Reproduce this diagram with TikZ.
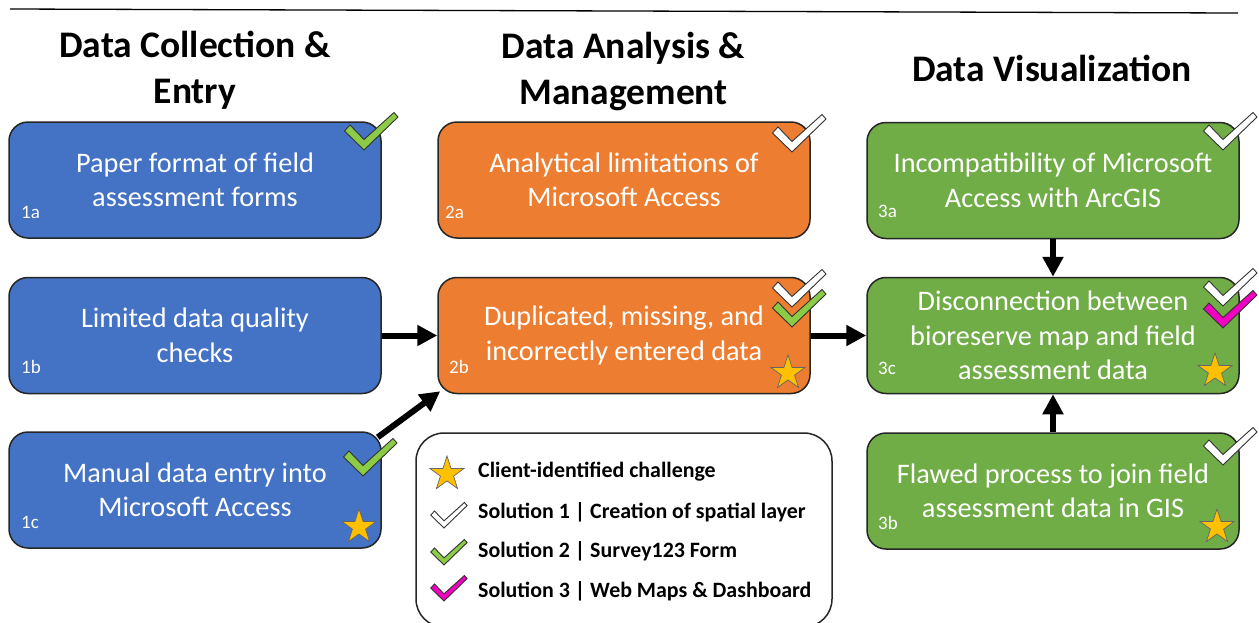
\documentclass[tikz,border=0pt]{standalone}
\usepackage{fontspec}
\setmainfont{Carlito}
\usetikzlibrary{arrows.meta,shapes.geometric}
\definecolor{cblue}{HTML}{4472C4}
\definecolor{corange}{HTML}{ED7D31}
\definecolor{cgreen}{HTML}{70AD47}
\definecolor{cgold}{HTML}{FFC000}
\definecolor{cchk}{HTML}{8CCB45}
\definecolor{cpink}{HTML}{F000C0}
\tikzset{
  box/.style={draw=black!85,line width=1.5pt,rounded corners=19pt,minimum width=372pt,minimum height=116pt,inner sep=0pt,text=white,align=center,font=\fontsize{28.3}{34.5}\selectfont},
  tag/.style={text=white,anchor=west,inner sep=0pt,font=\fontsize{19}{20}\selectfont},
  head/.style={align=center,inner sep=0pt,font=\fontsize{37.5}{46}\selectfont\bfseries},
  legtext/.style={anchor=west,inner sep=0pt,font=\fontsize{21.9}{24}\selectfont\bfseries},
  conn/.style={line width=6pt,-{Triangle[length=20pt,width=20pt]}},
  starmark/.style={star,star points=5,star point ratio=2.6,minimum size=36pt,inner sep=0pt,fill=cgold,draw=black!60,line width=.7pt},
  chkline/.style={draw=black!80,line width=.9pt,line join=miter}
}
\newcommand{\chkmark}[4]{%
  \fill[#3,chkline,shift={(#1,#2)},scale=#4] (0,0) -- (-19.5,-19) -- (-14,-25) -- (0,-10.5) -- (30,-37.5) -- (34,-33) -- cycle;}
\begin{document}
\begin{tikzpicture}[x=1pt,y=-1pt]
\useasboundingbox (0,0) rectangle (1259,622);
\fill[white] (0,0) rectangle (1259,622);
\coordinate (ruleL) at (10,9);
\coordinate (ruleR) at (1238,13);
\draw[black,line width=1.3pt] (ruleL) -- (ruleR);

\node[head] (h1) at (195,70.5) {Data Collection \&\\Entry};
\node[head] (h2) at (623.5,71.5) {Data Analysis \&\\Management};
\node[head] (h3) at (1052,68) {Data Visualization};

\node[box,fill=cblue] (a1) at (195,180) {Paper format of field\\assessment forms};
\node[box,fill=cblue] (b1) at (195,335.5) {Limited data quality\\checks};
\node[box,fill=cblue] (c1) at (195,490) {Manual data entry into\\Microsoft Access};
\node[box,fill=corange] (a2) at (624,180) {Analytical limitations of\\Microsoft Access};
\node[box,fill=corange] (b2) at (624,335.5) {Duplicated, missing, and\\incorrectly entered data};
\node[box,fill=cgreen] (a3) at (1053,180.5) {Incompatibility of Microsoft\\Access with ArcGIS};
\node[box,fill=cgreen] (c3) at (1053,335.5) {Disconnection between\\bioreserve map and field\\assessment data};
\node[box,fill=cgreen] (b3) at (1053,491) {Flawed process to join field\\assessment data in GIS};

\node[tag] (ta1) at (21,212) {1a};
\node[tag] (tb1) at (21,367) {1b};
\node[tag] (tc1) at (21,522) {1c};
\node[tag] (ta2) at (445,212) {2a};
\node[tag] (tb2) at (449,367) {2b};
\node[tag] (ta3) at (878,211) {3a};
\node[tag] (tc3) at (878,368) {3c};
\node[tag] (tb3) at (878,523) {3b};

\draw[conn] (b1.east) -- (b2.west);
\draw[conn] ([shift={(-4,6)}]c1.north east) -- ([shift={(3,-3)}]b2.south west);
\draw[conn] (b2.east) -- (c3.west);
\draw[conn] (a3.south) -- (c3.north);
\draw[conn] (b3.north) -- (c3.south);

\node[starmark] (s1) at (359,527) {};
\node[starmark] (s2) at (788,373) {};
\node[starmark] (s3) at (1215,371) {};
\node[starmark] (s4) at (1217,527) {};

\chkmark{364}{150}{cchk}{1}
\chkmark{792}{152}{white}{1}
\chkmark{1223}{150}{white}{1}
\chkmark{792}{327}{cchk}{1}
\chkmark{792}{307}{white}{1}
\chkmark{1223}{328}{cpink}{1}
\chkmark{1223}{306}{white}{1}
\chkmark{363}{476}{cchk}{1}
\chkmark{1223}{465}{white}{1}

\node[draw=black!85,fill=white,line width=1.5pt,rounded corners=28pt,minimum width=416pt,minimum height=194pt,inner sep=0pt] (leg) at (624,530) {};
\node[starmark] (s5) at (447,474) {};
\chkmark{444}{528}{white}{.68}
\chkmark{444}{565}{cchk}{.68}
\chkmark{444}{601}{cpink}{.68}
\node[legtext] (l0) at (478,472) {Client-identified challenge};
\node[legtext] (l1) at (478,512) {Solution 1 | Creation of spatial layer};
\node[legtext] (l2) at (478,551) {Solution 2 | Survey123 Form};
\node[legtext] (l3) at (478,591) {Solution 3 | Web Maps \& Dashboard};
\end{tikzpicture}
\end{document}
